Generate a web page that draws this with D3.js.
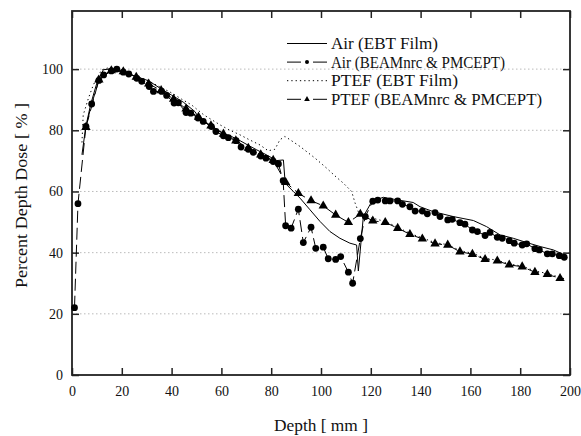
<!DOCTYPE html>
<html>
<head>
<meta charset="utf-8">
<script src="https://cdn.jsdelivr.net/npm/d3@7.9.0/dist/d3.min.js"></script>
<style>
  body { margin: 0; background: #fff; }
</style>
</head>
<body>
<svg id="chart" width="581" height="436" font-family="Liberation Serif"></svg>
<script>
// tick values
const xTicks = [0, 20, 40, 60, 80, 100, 120, 140, 160, 180, 200];
const yTicks = [0, 20, 40, 60, 80, 100];

// Air, EBT film (solid line)
const airFilm = [[4,72],[5.5,81],[7.5,88.5],[10,95.5],[12.6,99.8],[15,100],[20.5,99.2],[25,97.8],[30.7,96.2],
  [35.3,93.8],[40,91.5],[44.7,89.2],[49.4,86.1],[51.4,83.4],[55,81.8],[60.8,79],[64,78],[67.5,76.6],[71,75],
  [74.2,73.6],[78,72],[82.2,70.1],[84.9,70.3],[85.6,63],[86.2,62.2],[88.9,60],[91.6,57.8],[95.6,54],[99.6,50.2],
  [103.6,46.9],[107.6,44.7],[111.6,43.1],[114.3,42.5],[115,34],[117,51.8],[120.4,56.7],[125,58.1],[131,57.2],
  [137,56.4],[139.8,55],[145.1,53.4],[153.1,51.8],[161.2,50.5],[166.5,48.5],[171.9,45.8],[177.2,44.7],
  [182.6,43.3],[188,42],[193.3,40.9],[197.7,39.3]];

// Air, BEAMnrc & PMCEPT (dashed line + circles)
const airMC = [[1,22],[2.4,56],[5.6,81.3],[7.9,88.6],[10.8,96.3],[12.7,98.1],[15.8,99.4],[18,100],[20.6,99],
  [22.8,98.4],[26,97],[28,96],[31,94.3],[32.7,92.7],[36,92.7],[38,91.4],[41,88.9],[42.7,89],[45.8,85.8],
  [47.7,85.6],[50.6,84],[52.7,82.9],[56,81.2],[57.8,79.6],[60.8,78.2],[62.8,77.6],[65.9,76.6],[67.9,74.5],
  [70.8,73.8],[72.8,72.8],[75.8,71.6],[77.9,70.9],[80.8,69.8],[82.9,69],[84.8,63.5],[85.8,48.8],[88,48],
  [90.9,54.2],[92.9,43.3],[96,48.3],[97.9,41.4],[100.9,41.8],[102.9,38],[105.9,37.8],[107.9,38.7],[111,33.6],
  [112.7,30],[115.8,44.6],[117.8,51.8],[120.8,56.8],[122.8,57.2],[125.8,56.9],[127.7,56.9],[130.8,56.9],
  [132.7,55.8],[135.7,55],[137.8,53.6],[140.7,53.6],[142.7,52.7],[145.8,53.1],[147.8,51.8],[150.9,50.7],
  [152.7,50.9],[155.8,49.8],[157.8,49.3],[160.8,47.4],[162.8,46.9],[165.9,45.6],[167.9,46.6],[170.8,45],
  [172.8,44.7],[175.6,43.9],[177.6,43.1],[180.8,42.5],[182.6,42.9],[185.9,41.3],[187.7,40.9],[190.9,39.6],
  [192.9,39.6],[195.7,39],[197.7,38.5]];

// PTEF, EBT film (dotted line)
const ptefFilm = [[4,76],[4.5,85],[6.6,90.5],[8.6,94.9],[11.9,99.8],[15,100.5],[20,99.5],[25,98],[30,96.5],
  [35,94.3],[39.4,92.5],[44,90.2],[48,88.3],[53,85],[59.4,81.8],[63,80.2],[67.5,78.5],[71,77],[75.5,75.2],
  [78.8,73.3],[81.5,73.8],[83.5,76.9],[85.5,78],[87.6,76.9],[91.6,74.7],[97.6,70.9],[102.3,67.6],[106,64.8],
  [109,62.7],[112.3,60],[113.7,56.2],[115.7,51.8],[121,51.2],[125.8,50.2],[130.8,48.3],[135.7,46.3],
  [140.7,44.8],[145.8,43.3],[150.9,42.6],[155.8,40.7],[160.8,39.8],[165.9,38.2],[170.8,37.5],[175.6,36.3],
  [180.8,35.6],[185.9,34],[190.9,33.2],[196,31.9],[198.5,31.3]];

// PTEF, BEAMnrc & PMCEPT (dashed line + triangles)
const ptefMC = [[5.6,81],[10.8,96.5],[15.8,99.5],[20.6,99.2],[25.8,97.4],[30.8,95.2],[35.8,93],[40.8,90.2],
  [45.8,87],[50.8,84.3],[55.8,81.5],[60.8,78.8],[65.8,76.6],[70.8,74.2],[75.8,72],[80.8,70.2],[85.8,63],
  [90.9,59.4],[96,57],[100.9,55.3],[105.9,52.3],[111,49.9],[115.8,52.6],[120.8,50.4],[125.8,49.9],[130.8,48],
  [135.7,46],[140.7,44.5],[145.8,42.9],[150.9,42.5],[155.8,40.3],[160.8,39.5],[165.9,37.8],[170.8,37.3],
  [175.6,36],[180.8,35.4],[185.9,33.6],[190.9,32.9],[196,31.6]];

const legendLabels = ['Air (EBT Film)', 'Air (BEAMnrc & PMCEPT)', 'PTEF (EBT Film)', 'PTEF (BEAMnrc & PMCEPT)'];

const fontName = 'Liberation Serif';
const svg = d3.select('#chart');
const plotLeft = 72, plotRight = 570, plotTop = 11, plotBottom = 375;

const x = d3.scaleLinear().domain([0, 200]).range([plotLeft, plotRight]);
const y = d3.scaleLinear().domain([0, 119]).range([plotBottom, plotTop]);

// dotted grid lines
svg.append('g').selectAll('line')
  .data(yTicks.filter(d => d > 0))
  .enter().append('line')
  .attr('x1', plotLeft).attr('x2', plotRight)
  .attr('y1', d => y(d)).attr('y2', d => y(d))
  .attr('stroke', '#aaa').attr('stroke-width', 0.8)
  .attr('stroke-dasharray', '1.5,2.5');

// axes with inward ticks
const axisStyle = g => {
  g.attr('font-family', fontName).attr('font-size', 14);
  g.select('.domain').remove();
  g.selectAll('.tick line').attr('stroke', '#222').attr('stroke-width', 1.5);
  g.selectAll('.tick text').attr('font-family', fontName).attr('fill', '#111');
};
svg.append('g').attr('transform', `translate(0,${plotBottom})`)
  .call(d3.axisBottom(x).tickValues(xTicks).tickSizeInner(-7).tickSizeOuter(0).tickPadding(11))
  .call(axisStyle);
svg.append('g').attr('transform', `translate(0,${plotTop})`)
  .call(d3.axisTop(x).tickValues(xTicks).tickSizeInner(-7).tickSizeOuter(0).tickFormat(''))
  .call(axisStyle);
svg.append('g').attr('transform', `translate(${plotLeft},0)`)
  .call(d3.axisLeft(y).tickValues(yTicks).tickSizeInner(-7).tickSizeOuter(0).tickPadding(9))
  .call(axisStyle);
svg.append('g').attr('transform', `translate(${plotRight},0)`)
  .call(d3.axisRight(y).tickValues(yTicks).tickSizeInner(-7).tickSizeOuter(0).tickFormat(''))
  .call(axisStyle);

// frame
svg.append('rect')
  .attr('x', plotLeft).attr('y', plotTop)
  .attr('width', plotRight - plotLeft).attr('height', plotBottom - plotTop)
  .attr('fill', 'none').attr('stroke', '#222').attr('stroke-width', 1.8);

const line = d3.line().x(d => x(d[0])).y(d => y(d[1]));

const plot = svg.append('g');
plot.append('path').datum(ptefFilm).attr('d', line)
  .attr('fill', 'none').attr('stroke', '#000').attr('stroke-width', 1).attr('stroke-dasharray', '1.3,3');
plot.append('path').datum(ptefMC).attr('d', line)
  .attr('fill', 'none').attr('stroke', '#000').attr('stroke-width', 1).attr('stroke-dasharray', '12,5');
plot.append('path').datum(airMC).attr('d', line)
  .attr('fill', 'none').attr('stroke', '#000').attr('stroke-width', 1).attr('stroke-dasharray', '12,5');
plot.append('path').datum(airFilm).attr('d', line)
  .attr('fill', 'none').attr('stroke', '#000').attr('stroke-width', 1);

const tri = d3.symbol().type(d3.symbolTriangle).size(38);
plot.append('g').selectAll('path')
  .data(ptefMC)
  .enter().append('path')
  .attr('d', tri)
  .attr('transform', d => `translate(${x(d[0])},${y(d[1])})`)
  .attr('fill', '#000');

plot.append('g').selectAll('circle')
  .data(airMC)
  .enter().append('circle')
  .attr('cx', d => x(d[0])).attr('cy', d => y(d[1]))
  .attr('r', 3.4).attr('fill', '#000');

const legend = svg.append('g').attr('font-family', fontName).attr('font-size', 17);
const lx1 = 287, lx2 = 327, ly0 = 43.5, lstep = 18.6;
const dashes = [null, '14,12', '1.3,3', '14,12'];
const labelWidths = [107, 174, 127, 211];
legendLabels.forEach((lab, i) => {
  const ly = ly0 + i * lstep;
  legend.append('line')
    .attr('x1', lx1).attr('x2', lx2).attr('y1', ly).attr('y2', ly)
    .attr('stroke', '#000').attr('stroke-width', 1)
    .attr('stroke-dasharray', dashes[i]);
  if (i === 1) {
    legend.append('circle').attr('cx', (lx1 + lx2) / 2).attr('cy', ly).attr('r', 2).attr('fill', '#000');
  }
  if (i === 3) {
    legend.append('path').attr('d', d3.symbol().type(d3.symbolTriangle).size(14))
      .attr('transform', `translate(${(lx1 + lx2) / 2},${ly})`).attr('fill', '#000');
  }
  legend.append('text')
    .attr('x', 331).attr('y', ly + 5.5)
    .attr('fill', '#111')
    .attr('textLength', labelWidths[i])
    .attr('lengthAdjust', 'spacingAndGlyphs')
    .text(lab);
});

// axis titles
const titles = svg.append('g').attr('font-family', fontName).attr('font-size', 17).attr('fill', '#111');
titles.append('text')
  .attr('x', 274).attr('y', 431)
  .attr('textLength', 94)
  .attr('lengthAdjust', 'spacingAndGlyphs')
  .text('Depth [ mm ]');
titles.append('text')
  .attr('transform', 'translate(27,288) rotate(-90)')
  .attr('textLength', 185)
  .attr('lengthAdjust', 'spacingAndGlyphs')
  .text('Percent Depth Dose [ % ]');
</script>
</body>
</html>
